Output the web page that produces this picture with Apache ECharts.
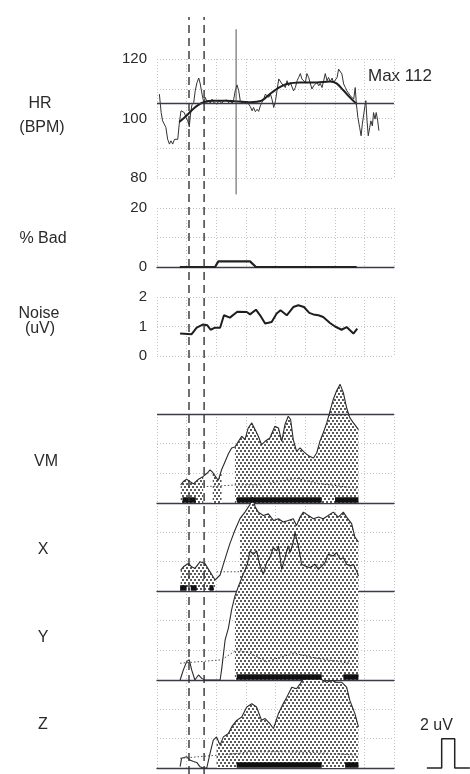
<!DOCTYPE html>
<html><head><meta charset="utf-8">
<script src="https://cdn.jsdelivr.net/npm/echarts@6/dist/echarts.min.js"></script>
<style>html,body{margin:0;padding:0;background:#fff}#c{width:470px;height:774px}</style>
</head><body><div id="c"></div>
<script>
// ---------- DATA ----------
const xTicks = [0, 80, 10]; // min, max, interval (time grid)
const hrTicks = [80, 120, 10];
const hrRef = 105;
const hrMax = 'Max 112';
const hrRaw = [[0.8,108.2],[1.4,102.0],[1.9,99.2],[2.5,99.8],[3.0,97.0],[3.6,93.0],[4.2,91.4],[4.7,92.5],[5.3,91.4],[5.9,93.0],[6.4,92.5],[7.0,93.0],[7.5,98.1],[8.1,102.6],[8.7,103.1],[9.2,102.0],[9.8,100.3],[10.4,99.2],[10.9,97.2],[11.3,101.5],[11.8,104.6],[12.4,105.4],[12.9,109.3],[13.5,112.1],[14.1,113.6],[14.6,111.6],[15.2,108.2],[15.8,105.4],[16.3,107.1],[16.9,105.4],[17.4,106.2],[18.0,105.1],[18.6,106.5],[19.1,105.4],[19.7,106.0],[20.3,104.9],[20.8,106.0],[21.4,106.2],[21.9,105.1],[22.5,106.0],[23.1,105.4],[23.6,106.2],[24.2,105.3],[24.8,106.0],[25.3,104.9],[25.9,106.5],[26.4,109.3],[27.0,111.3],[27.6,109.3],[28.1,106.0],[28.7,105.1],[29.3,105.8],[29.8,105.1],[30.4,105.8],[30.9,104.9],[31.5,104.0],[32.1,102.6],[32.6,103.7],[33.2,102.3],[33.8,103.1],[34.3,102.4],[34.9,104.3],[35.4,105.4],[36.0,106.5],[36.6,108.2],[37.1,108.7],[37.7,107.1],[38.3,108.2],[38.8,106.5],[39.4,103.7],[40.0,106.0],[40.5,109.3],[41.1,113.3],[41.6,112.7],[42.2,111.6],[42.8,112.1],[43.3,110.4],[43.9,112.7],[44.4,111.0],[45.0,112.1],[45.6,111.6],[46.1,109.3],[46.7,110.4],[47.3,112.7],[47.8,113.8],[48.4,115.1],[48.9,113.3],[49.5,113.8],[50.1,112.1],[50.6,115.1],[51.2,113.8],[51.8,111.6],[52.3,109.9],[52.9,111.0],[53.4,110.4],[54.0,112.1],[54.6,111.0],[55.1,111.8],[55.7,110.4],[56.3,112.9],[56.8,115.1],[57.4,112.7],[57.9,113.8],[58.5,112.4],[59.1,113.6],[59.6,112.1],[60.2,112.7],[60.8,113.8],[61.3,116.6],[61.9,117.0],[62.4,115.0],[63.0,111.6],[63.6,110.4],[64.1,109.3],[64.7,108.7],[65.3,107.6],[65.8,107.1],[66.4,106.5],[66.9,110.4],[67.3,104.9],[67.8,100.4],[68.4,97.0],[68.9,94.2],[69.3,98.1],[69.8,101.5],[70.2,104.3],[70.5,106.0],[70.9,99.2],[71.3,94.2],[71.8,97.0],[72.2,99.2],[72.7,97.5],[73.1,102.0],[73.6,99.8],[74.0,102.0],[74.5,99.2],[74.9,95.9]];
const hrSmooth = [[7.5,98.8],[10.0,101.0],[12.3,103.3],[15.1,105.2],[18.5,106.0],[23.5,106.0],[31.4,105.5],[35.3,106.0],[38.1,108.2],[41.0,110.3],[43.8,111.6],[48.3,112.1],[53.9,112.1],[58.4,112.4],[60.6,111.8],[62.9,109.5],[65.1,107.1],[67.4,104.9]];
const eventMark = [[26.7,130],[26.7,74.5]];
const dashedMarks = [10.8, 15.9];

const badTicks = [0, 20, 10];
const badPct = [[7.7,0],[19.6,0],[20.7,1.9],[31.4,1.9],[33.4,0],[67.4,0]];

const noiseTicks = [0, 2, 1];
const noise = [[7.8,0.76],[11.7,0.74],[13.4,0.96],[15.6,1.07],[17.0,1.04],[18.1,0.89],[19.6,0.96],[21.3,0.96],[22.6,1.38],[24.6,1.30],[27.1,1.50],[30.3,1.49],[31.4,1.41],[33.4,1.57],[34.8,1.38],[36.5,1.10],[38.7,1.15],[40.4,1.44],[41.7,1.55],[43.8,1.38],[46.0,1.66],[47.7,1.72],[49.6,1.66],[51.4,1.46],[52.8,1.41],[54.5,1.38],[56.1,1.32],[58.4,1.12],[60.1,1.00],[62.3,0.89],[64.0,0.98],[66.3,0.76],[67.6,0.93]];

const uvTicks = [0, 6, 2];
const vm = [[8.0,1.22],[8.9,1.45],[10.0,1.60],[11.1,1.45],[12.3,1.29],[14.0,1.60],[15.6,1.79],[17.0,2.02],[17.9,2.24],[18.8,2.06],[19.6,1.83],[20.7,1.52],[21.8,2.24],[23.0,2.80],[24.1,3.32],[25.2,3.71],[26.3,3.77],[27.5,4.16],[28.6,4.50],[29.7,4.27],[30.8,5.06],[32.0,5.40],[33.1,4.95],[34.2,4.50],[35.3,3.93],[36.5,4.16],[38.1,4.38],[39.8,5.18],[41.0,5.06],[42.1,4.16],[43.2,5.29],[44.3,5.85],[45.1,5.63],[46.0,4.27],[47.1,3.48],[48.3,3.71],[49.4,3.48],[51.1,3.19],[52.8,3.03],[53.9,3.37],[55.0,4.16],[56.1,4.72],[57.3,5.40],[58.4,6.19],[59.5,6.98],[60.6,7.55],[61.8,8.00],[62.9,7.44],[64.0,6.42],[65.1,5.74],[66.3,5.40],[68.0,4.95]];
const vmFloor = [[16.8,1.11],[26.9,1.22],[34.8,1.22],[47.1,1.67],[53.9,1.33],[67.4,1.0]];
const vmFill = [[8.0,12.3],[14.0,15.6],[18.8,21.8],[26.3,68.0]];
const vmBars = [[8.6,13.1],[26.9,55.6],[60.1,68.0]];

const xs = [[8.0,1.43],[8.9,1.65],[10.6,1.88],[11.7,1.65],[12.8,1.54],[14.5,1.99],[16.2,1.88],[17.9,1.31],[19.6,0.75],[21.3,1.09],[23.0,2.21],[24.6,3.23],[26.3,4.14],[28.0,4.93],[29.7,5.38],[31.4,5.90],[32.2,6.40],[33.2,5.70],[34.2,5.38],[35.9,5.15],[37.6,5.26],[39.3,4.81],[41.0,4.93],[42.6,4.70],[44.3,4.81],[46.0,4.93],[47.1,4.47],[48.3,5.04],[49.4,5.38],[51.1,5.15],[52.8,4.93],[54.5,5.04],[56.1,4.93],[57.8,5.15],[59.5,5.38],[61.2,5.04],[62.9,5.38],[64.0,5.04],[65.7,4.59],[66.8,3.68],[68.0,3.34]];
const xFloor = [[20.1,1.31],[28.0,1.31]];
const xFill = [[8.0,19.6],[28.0,68.0]];
const xBars = [[7.8,10.0],[11.4,13.4],[17.7,19.1]];

const ys = [[7.8,0],[8.9,0.68],[10.0,1.24],[10.9,1.36],[11.7,0.68],[12.8,0],[14.0,0.34],[15.1,0.11],[16.2,0],[21.3,0],[21.8,0.68],[23.0,2.71],[24.1,3.50],[25.2,4.75],[26.3,5.65],[27.5,6.33],[29.1,7.12],[30.5,7.80],[31.4,8.70],[32.5,8.47],[33.6,8.70],[34.8,7.68],[35.9,7.12],[37.0,7.91],[38.1,8.25],[39.3,8.93],[40.4,8.70],[41.0,9.04],[42.1,7.46],[43.2,8.25],[44.3,9.04],[44.9,8.59],[46.0,9.27],[46.6,9.95],[47.7,9.04],[48.8,7.80],[50.0,7.68],[51.6,7.57],[53.3,7.80],[54.5,7.46],[55.6,7.68],[56.7,7.91],[57.8,8.47],[59.5,8.36],[60.6,8.59],[61.8,8.14],[62.9,8.25],[64.0,7.80],[65.1,7.68],[66.3,7.80],[67.4,7.34],[68.0,7.00]];
const yFloor = [[7.8,1.13],[21.8,1.36],[26.9,2.03],[31.4,1.81],[37.0,1.24],[46.0,1.81],[53.9,1.47],[65.1,1.13]];
const yFill = [[26.3,68.0]];
const yBars = [[26.9,55.6],[62.9,68.0]];

const zs = [[7.8,0.09],[8.3,0.66],[9.2,0.72],[10.0,0.77],[11.1,0.54],[12.3,0.45],[13.4,0.38],[14.5,0.09],[15.6,0],[16.8,0],[17.9,1.0],[19.0,1.9],[20.1,2.12],[21.3,1.56],[22.4,2.12],[24.1,2.35],[25.2,2.80],[26.9,3.25],[28.6,3.48],[30.3,4.16],[32.0,4.38],[33.6,4.16],[35.3,3.25],[36.5,3.37],[38.1,3.03],[39.3,2.69],[41.0,3.71],[42.6,4.38],[43.8,4.83],[45.5,5.51],[47.1,5.40],[48.3,5.74],[49.4,6.08],[50.5,6.30],[51.6,6.19],[52.8,6.08],[53.9,6.30],[55.0,6.08],[56.1,5.97],[57.3,5.85],[59.0,5.97],[60.6,5.85],[62.3,5.85],[64.0,5.51],[65.1,4.61],[66.8,3.71],[68.0,2.80]];
const zFloor = [[7.8,0.66],[26.9,0.99],[31.4,1.1],[42.6,1.1],[53.9,1.05],[67.4,0.88]];
const zFill = [[20.1,68.0]];
const zBars = [[26.9,55.6],[63.5,68.0]];

const calTicks = [0, 105.66];   // same time scale, grid widened to the page edge
const calPulse = [[91.1,0],[96.1,0],[96.1,2],[100.5,2],[100.5,0],[105.6,0]];
const calLabel = '2 uV';
const panelLabels = [['HR',40,104],['(BPM)',42,128],['% Bad',43,239],['Noise',39,314],['(uV)',40,329],['VM',46,462],['X',43,550],['Y',43,638],['Z',43,725]];

// ---------- CHART ----------
const chart = echarts.init(document.getElementById('c'), null, {renderer:'canvas'});
const FONT = '"Liberation Sans", Arial, sans-serif';
const DARK = '#3a3a4c';
const TXT = '#2a2a2a';

const pc = document.createElement('canvas'); pc.width = 4; pc.height = 6;
const g = pc.getContext('2d');
g.fillStyle = '#ffffff'; g.fillRect(0,0,4,6);
g.fillStyle = '#5a5a5a'; g.fillRect(0,0,2,2); g.fillRect(2,3,2,2);
const pattern = {image: pc, repeat: 'repeat'};

const L = 157, W = 237;
const grids = [
  {top:59, height:119},  // HR
  {top:208, height:59},  // bad
  {top:297, height:59},  // noise
  {top:414, height:89},  // VM
  {top:503, height:88},  // X
  {top:591, height:89},  // Y
  {top:680, height:88},  // Z
  {top:17, height:757},  // overlay
  {top:680, height:88, width:313} // calibration
].map(gg => Object.assign({left:L, width:W, containLabel:false}, gg));

const dotted = {show:true, lineStyle:{color:'#c4c4c8', type:[1,2], width:1}};
const xAxes = grids.map((gg,i) => ({
  type:'value', gridIndex:i, min:xTicks[0], max: i===8 ? calTicks[1] : xTicks[1], interval:xTicks[2],
  axisLabel:{show:false}, axisTick:{show:false},
  axisLine:{show: (i>=1 && i<=6 && i!==2), onZero:false, lineStyle:{color:DARK, width:1.3}},
  splitLine: i>=7 ? {show:false} : dotted
}));
const lbl = (fmt) => ({show:true, fontFamily:FONT, fontSize:15, color:TXT, margin:10, formatter:fmt});
const yAxes = [
  {min:hrTicks[0], max:hrTicks[1], interval:hrTicks[2], axisLabel:lbl(v => v%20===0 ? String(v) : '')},
  {min:badTicks[0], max:badTicks[1], interval:badTicks[2], axisLabel:lbl(v => v%20===0 ? String(v) : '')},
  {min:noiseTicks[0], max:noiseTicks[1], interval:noiseTicks[2], axisLabel:lbl(v => String(v))},
  {min:uvTicks[0], max:uvTicks[1], interval:uvTicks[2], axisLabel:{show:false}},
  {min:uvTicks[0], max:uvTicks[1], interval:uvTicks[2], axisLabel:{show:false}},
  {min:uvTicks[0], max:uvTicks[1], interval:uvTicks[2], axisLabel:{show:false}},
  {min:uvTicks[0], max:uvTicks[1], interval:uvTicks[2], axisLabel:{show:false}},
  {min:0, max:1, axisLabel:{show:false}, splitLine:{show:false}},
  {min:uvTicks[0], max:uvTicks[1], interval:uvTicks[2], axisLabel:{show:false}, splitLine:{show:false}}
].map((a,i) => Object.assign({type:'value', gridIndex:i, axisTick:{show:false}, axisLine:{show:false}, splitLine: dotted}, a));

const inRanges = (x, rs) => rs.some(r => x >= r[0]-1e-6 && x <= r[1]+1e-6);
const fillData = (d, rs) => d.map(p => inRanges(p[0], rs) ? p : [p[0], '-']);
const barData = (rs, h) => { const o=[]; rs.forEach(r => { o.push([r[0],h],[r[1],h],[r[1],'-']); }); return o; };

const line = (idx, data, extra) => Object.assign({
  type:'line', xAxisIndex:idx, yAxisIndex:idx, data, symbol:'none', clip:false,
  silent:true, animation:false, connectNulls:false, z:3,
  lineStyle:{color:'#2b2b2b', width:1}
}, extra||{});

const series = [];
// HR
series.push(line(0, hrRaw, {lineStyle:{color:'#333', width:1},
  markLine:{silent:true, symbol:'none', label:{show:false}, animation:false,
    lineStyle:{color:DARK, width:1.3, type:'solid'}, data:[{yAxis:hrRef}]}}));
series.push(line(0, hrSmooth, {smooth:0.3, lineStyle:{color:'#1e1e1e', width:2}}));
series.push(line(0, eventMark, {lineStyle:{color:'#555', width:1}}));
// bad
series.push(line(1, badPct, {lineStyle:{color:'#222', width:2.2}}));
// noise
series.push(line(2, noise, {lineStyle:{color:'#1e1e1e', width:2}}));
// lower panels
const panels = [
  [3, vm, vmFloor, vmFill, vmBars],
  [4, xs, xFloor, xFill, xBars],
  [5, ys, yFloor, yFill, yBars],
  [6, zs, zFloor, zFill, zBars]
];
panels.forEach(([idx, d, fl, fr, br]) => {
  series.push(line(idx, fillData(d, fr), {z:1, lineStyle:{width:0, opacity:0}, areaStyle:{color:pattern, opacity:1, origin:'start'}}));
});
panels.forEach(([idx, d, fl, fr, br]) => {
  series.push(line(idx, d, {z:3, lineStyle:{color:'#2b2b2b', width:1.1}}));
  series.push(line(idx, fl, {z:3, lineStyle:{color:'#555', width:1, type:[1.5,2]}}));
  series.push(line(idx, barData(br, 0.2), {z:4, lineStyle:{color:'#111', width:5.5, cap:'butt'}}));
});
// VM top line
series.push(line(3, [], {markLine:{silent:true, symbol:'none', label:{show:false}, animation:false,
  lineStyle:{color:DARK, width:1.3, type:'solid'}, data:[{yAxis:uvTicks[1]}]}}));
// calibration pulse (Z panel scale)
series.push(line(8, calPulse, {lineStyle:{color:'#222', width:1.5}}));
// dashed markers
dashedMarks.forEach(m => series.push(line(7, [[m,0],[m,1]], {z:5, lineStyle:{color:'#333', width:1.4, type:[8,5]}})));

const graphic = panelLabels.map(([t,x,y]) => ({type:'text', x:x, y:y, style:{text:t, font:'16px '+FONT, fill:TXT, align:'center', verticalAlign:'middle'}}));
graphic.push({type:'text', x:368, y:76, style:{text:hrMax, font:'17px '+FONT, fill:TXT, align:'left', verticalAlign:'middle'}});
graphic.push({type:'text', x:420, y:726, style:{text:calLabel, font:'16px '+FONT, fill:TXT, align:'left', verticalAlign:'middle'}});

chart.setOption({
  backgroundColor:'#fff', animation:false,
  grid:grids, xAxis:xAxes, yAxis:yAxes, series, graphic
});
</script></body></html>
